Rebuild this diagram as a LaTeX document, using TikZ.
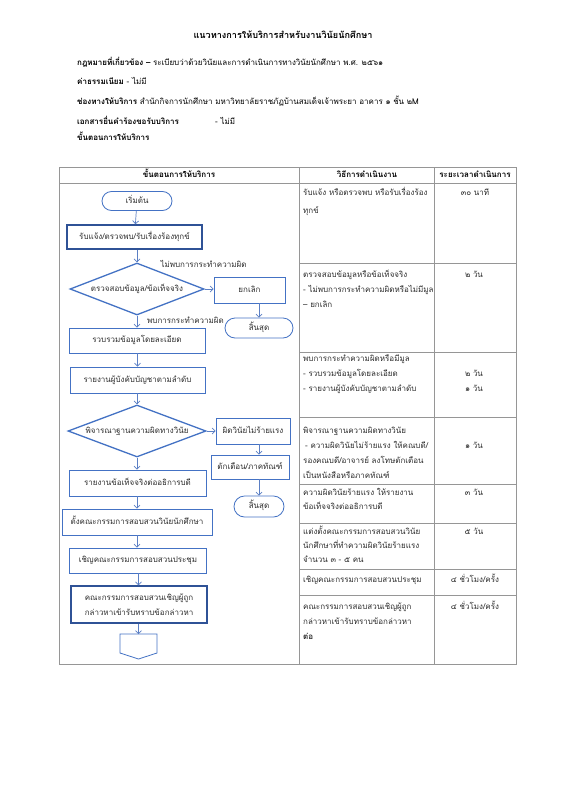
\documentclass[tikz,border=0pt]{standalone}
\usepackage{fontspec}
\newfontfamily\thai[Script=Thai]{Loma}
\usetikzlibrary{shapes.geometric,shapes.misc,arrows.meta}
\definecolor{boxblue}{RGB}{68,114,196}
\definecolor{boxdark}{RGB}{47,82,150}
\definecolor{arrblue}{RGB}{91,127,196}
\definecolor{gridc}{RGB}{150,150,150}
\definecolor{txt}{RGB}{45,45,45}
\tikzset{
  base0/.style={font=\thai\fontsize{8}{9}\selectfont, text=txt, inner sep=0pt},
  base/.style={base0, text height=6.5pt, text depth=2pt},
  fbox/.style={base, draw=boxblue, line width=0.8pt, fill=white, rectangle, align=center},
  thickbox/.style={fbox, draw=boxdark, line width=1.5pt},
  thickbox2/.style={base0, draw=boxdark, line width=1.5pt, fill=white, rectangle, align=center, font=\thai\fontsize{8}{15}\selectfont},
  term/.style={base, draw=boxblue, line width=0.8pt, fill=white, rounded rectangle},
  dia/.style={draw=boxblue, line width=1.3pt, fill=white, diamond, inner sep=0pt},
  arr/.style={draw=arrblue, line width=0.7pt, -{Straight Barb[length=3pt,width=6pt]}},
  lt/.style={base, anchor=west},
  ct/.style={base, anchor=center},
  hd/.style={base, font=\thai\bfseries\fontsize{8}{9}\selectfont, text=black},
  gl/.style={draw=gridc, line width=0.6pt}
}
\begin{document}
\begin{tikzpicture}[x=1pt,y=-1pt]
\useasboundingbox[fill=white] (0,0) rectangle (566,800);

% header texts
\node[hd, font=\thai\bfseries\fontsize{9.1}{10}\selectfont] (title) at (283,36) {แนวทางการให้บริการสำหรับงานวินัยนักศึกษา};
\node[lt, text=black] (law) at (77,63) {\bfseries กฎหมายที่เกี่ยวข้อง –\mdseries\ ระเบียบว่าด้วยวินัยและการดำเนินการทางวินัยนักศึกษา พ.ศ. ๒๕๖๑};
\node[lt, text=black] (fee) at (77,82) {\bfseries ค่าธรรมเนียม\mdseries\ - ไม่มี};
\node[lt, text=black] (chan) at (77,102) {\bfseries ช่องทางให้บริการ\mdseries\ สำนักกิจการนักศึกษา มหาวิทยาลัยราชภัฏบ้านสมเด็จเจ้าพระยา อาคาร ๑ ชั้น ๒M};
\node[lt, text=black] (docs) at (77,122) {\bfseries เอกสารยื่นคำร้องขอรับบริการ};
\node[lt, text=black] (docs2) at (215,122) {- ไม่มี};
\node[lt, text=black] (steps) at (77,138) {\bfseries ขั้นตอนการให้บริการ};

% table
\draw[gl] (59,167) rectangle (516,664);
\draw[gl] (59,183) -- (516,183);
\draw[gl] (299,167) -- (299,664);
\draw[gl] (434,167) -- (434,664);
\foreach \yy in {263,352,417,484,523,569,595} \draw[gl] (299,\yy) -- (516,\yy);

\node[hd] (h1) at (179,175) {ขั้นตอนการให้บริการ};
\node[hd] (h2) at (367,175) {วิธีการดำเนินงาน};
\node[hd] (h3) at (475,175) {ระยะเวลาดำเนินการ};

% flowchart
\node[term, minimum width=70pt, minimum height=19pt] (start) at (137,201) {เริ่มต้น};
\node[thickbox, minimum width=135pt, minimum height=24pt] (b1) at (134.5,237) {รับแจ้ง/ตรวจพบ/รับเรื่องร้องทุกข์};
\node[dia, minimum width=134pt, minimum height=52pt] (d1) at (137,289) {};
\node[ct] (d1t) at (d1) {ตรวจสอบข้อมูล/ข้อเท็จจริง};
\node[fbox, minimum width=71pt, minimum height=26pt] (cancel) at (249.5,290) {ยกเลิก};
\node[term, minimum width=68pt, minimum height=20pt] (end1) at (259,328) {สิ้นสุด};
\node[ct] (lno) at (203.5,265) {ไม่พบการกระทำความผิด};
\node[ct] (lyes) at (185.5,321) {พบการกระทำความผิด};
\node[fbox, minimum width=136pt, minimum height=25pt] (b2) at (137,340.5) {รวบรวมข้อมูลโดยละเอียด};
\node[fbox, minimum width=135pt, minimum height=26pt] (b3) at (137.5,380) {รายงานผู้บังคับบัญชาตามลำดับ};
\node[dia, minimum width=138pt, minimum height=52pt] (d2) at (137,431) {};
\node[ct] (d2t) at (d2) {พิจารณาฐานความผิดทางวินัย};
\node[fbox, minimum width=74pt, minimum height=26pt] (minor) at (253,431) {ผิดวินัยไม่ร้ายแรง};
\node[fbox, minimum width=78pt, minimum height=24pt] (warn) at (250,467) {ตักเตือน/ภาคทัณฑ์};
\node[term, minimum width=50pt, minimum height=21pt] (end2) at (259,506.5) {สิ้นสุด};
\node[fbox, minimum width=137pt, minimum height=26pt] (b4) at (137.5,483) {รายงานข้อเท็จจริงต่ออธิการบดี};
\node[fbox, minimum width=150pt, minimum height=26pt] (b5) at (137,522) {ตั้งคณะกรรมการสอบสวนวินัยนักศึกษา};
\node[fbox, minimum width=137pt, minimum height=25pt] (b6) at (138,560.5) {เชิญคณะกรรมการสอบสวนประชุม};
\node[thickbox2, minimum width=136pt, minimum height=37pt] (b7) at (139,604.5) {คณะกรรมการสอบสวนเชิญผู้ถูก\\กล่าวหาเข้ารับทราบข้อกล่าวหา};
\coordinate (pent) at (138.5,634);
\draw[draw=boxblue, line width=0.8pt, fill=white] (120,634) -- (157,634) -- (157,653) -- (138.5,659) -- (120,653) -- cycle;

\draw[arr] (start) -- (b1);
\draw[arr] (b1.south -| d1) -- (d1.north);
\draw[arr] (d1.east) -- (cancel.west |- d1.east);
\draw[arr] (cancel.south -| end1) -- (end1.north);
\draw[arr] (d1.south) -- (b2.north -| d1);
\draw[arr] (b2.south -| b3) -- (b3.north);
\draw[arr] (b3.south -| d2) -- (d2.north);
\draw[arr] (d2.east) -- (minor.west);
\draw[arr] (minor.south -| end2) -- (warn.north -| end2);
\draw[arr] (warn.south -| end2) -- (end2.north);
\draw[arr] (d2.south) -- (b4.north -| d2);
\draw[arr] (b4.south -| b5) -- (b5.north);
\draw[arr] (b5.south) -- (b6.north -| b5);
\draw[arr] (b6.south -| pent) -- (b7.north -| pent);
\draw[arr] (b7.south -| pent) -- (pent);

% method column
\node[lt] (m1a) at (303,193) {รับแจ้ง หรือตรวจพบ หรือรับเรื่องร้อง};
\node[lt] (m1b) at (303,211) {ทุกข์};
\node[lt] (m2a) at (303,275) {ตรวจสอบข้อมูลหรือข้อเท็จจริง};
\node[lt] (m2b) at (303,290) {- ไม่พบการกระทำความผิดหรือไม่มีมูล};
\node[lt] (m2c) at (303,305) {– ยกเลิก};
\node[lt] (m3a) at (303,359) {พบการกระทำความผิดหรือมีมูล};
\node[lt] (m3b) at (303,374) {- รวบรวมข้อมูลโดยละเอียด};
\node[lt] (m3c) at (303,389) {- รายงานผู้บังคับบัญชาตามลำดับ};
\node[lt] (m4a) at (303,431) {พิจารณาฐานความผิดทางวินัย};
\node[lt] (m4b) at (305,446) {- ความผิดวินัยไม่ร้ายแรง ให้คณบดี/};
\node[lt] (m4c) at (303,461) {รองคณบดี/อาจารย์ ลงโทษตักเตือน};
\node[lt] (m4d) at (303,476) {เป็นหนังสือหรือภาคทัณฑ์};
\node[lt] (m5a) at (303,493) {ความผิดวินัยร้ายแรง ให้รายงาน};
\node[lt] (m5b) at (303,507) {ข้อเท็จจริงต่ออธิการบดี};
\node[lt] (m6a) at (303,532) {แต่งตั้งคณะกรรมการสอบสวนวินัย};
\node[lt] (m6b) at (303,546) {นักศึกษาที่ทำความผิดวินัยร้ายแรง};
\node[lt] (m6c) at (303,560) {จำนวน ๓ - ๕ คน};
\node[lt] (m7a) at (303,580) {เชิญคณะกรรมการสอบสวนประชุม};
\node[lt] (m8a) at (303,607) {คณะกรรมการสอบสวนเชิญผู้ถูก};
\node[lt] (m8b) at (303,622) {กล่าวหาเข้ารับทราบข้อกล่าวหา};
\node[lt] (m8c) at (303,637) {\bfseries ต่อ};

% time column
\node[ct] (t1) at (475,193) {๓๐ นาที};
\node[ct] (t2) at (474,275) {๒ วัน};
\node[ct] (t3a) at (474,374) {๒ วัน};
\node[ct] (t3b) at (474,389) {๑ วัน};
\node[ct] (t4) at (474,446) {๑ วัน};
\node[ct] (t5) at (474,493) {๓ วัน};
\node[ct] (t6) at (474,532) {๕ วัน};
\node[ct] (t7) at (475,580) {๔ ชั่วโมง/ครั้ง};
\node[ct] (t8) at (475,607) {๔ ชั่วโมง/ครั้ง};
\end{tikzpicture}
\end{document}
